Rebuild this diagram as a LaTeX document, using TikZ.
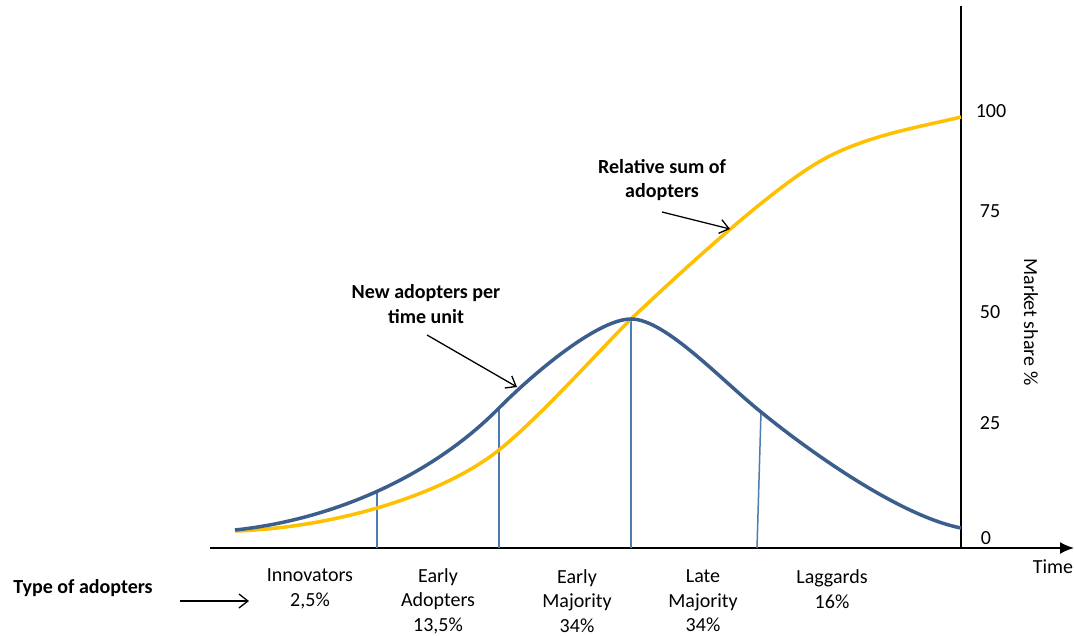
\documentclass[tikz,border=0pt]{standalone}
\usepackage{fontspec}
\setmainfont{Carlito}
\usetikzlibrary{arrows.meta}
\definecolor{cblue}{HTML}{3B5E8C}
\definecolor{cyellow}{HTML}{FFC000}
\definecolor{cthin}{HTML}{4F7BB0}
\begin{document}
\begin{tikzpicture}[x=1pt,y=-1pt,
  lbl/.style={font=\fontsize{20}{24.5}\selectfont, align=center, inner sep=0pt},
  blbl/.style={lbl, font=\fontsize{20}{24.5}\selectfont\bfseries},
  curveblue/.style={cblue, line width=3.5pt},
  curveyellow/.style={cyellow, line width=3.5pt},
  divline/.style={cthin, line width=1.5pt},
  axis/.style={black, line width=1.8pt},
  pointer/.style={black, line width=1.3pt, -{Straight Barb[length=9pt,width=14pt]}}]
\useasboundingbox[fill=white] (0,0) rectangle (1074,636);
% axes
\draw[axis, -{Latex[length=14pt,width=12pt]}] (210,548) -- (1074,548);
\draw[axis] (961,6) -- (961,548);
% divider lines
\draw[divline] (377,493) -- (377,548);
\draw[divline] (499,408) -- (499,548);
\draw[divline] (631,319) -- (631,548);
\draw[divline] (761,412) -- (757,548);
% yellow curve
\draw[curveyellow] (235,531) .. controls (330,528) and (440,497) .. (499,450)
  .. controls (540,417) and (595,355) .. (631,319)
  .. controls (700,254) and (772,190) .. (817,163)
  .. controls (862,136) and (920,127) .. (961,117);
% blue curve
\draw[curveblue] (235,530) .. controls (330,520) and (430,478) .. (499,408)
  .. controls (540,367) and (600,319) .. (631,319)
  .. controls (665,319) and (720,379) .. (761,412)
  .. controls (810,452) and (900,516) .. (961,528);
% tick labels
\node[lbl] (t100) at (991,111) {100};
\node[lbl] (t75) at (990,211) {75};
\node[lbl] (t50) at (990,312) {50};
\node[lbl] (t25) at (990,423) {25};
\node[lbl] (t0) at (986,538) {0};
\node[lbl, rotate=-90] (ms) at (1031,322) {Market share \%};
\node[lbl] (time) at (1053,567) {Time};
% curve labels
\node[blbl] (rel) at (662,180) {Relative sum of\\adopters};
\node[blbl] (new) at (426,304) {New adopters per\\time unit};
\coordinate (relA) at (662,212);
\coordinate (relB) at (730,229);
\coordinate (newA) at (427,335);
\coordinate (newB) at (517,387);
\draw[pointer] (relA) -- (relB);
\draw[pointer] (newA) -- (newB);
% type of adopters
\node[blbl] (toa) at (83,588) {Type of adopters};
\coordinate (toaA) at (180,601);
\coordinate (toaB) at (249,601);
\draw[pointer] (toaA) -- (toaB);
\node[lbl] (inn) at (310,589) {Innovators\\2,5\%};
\node[lbl] (ea) at (438,601) {Early\\Adopters\\13,5\%};
\node[lbl] (em) at (577,601) {Early\\Majority\\34\%};
\node[lbl] (lm) at (703,601) {Late\\Majority\\34\%};
\node[lbl] (lag) at (832,589) {Laggards\\16\%};
\end{tikzpicture}
\end{document}
